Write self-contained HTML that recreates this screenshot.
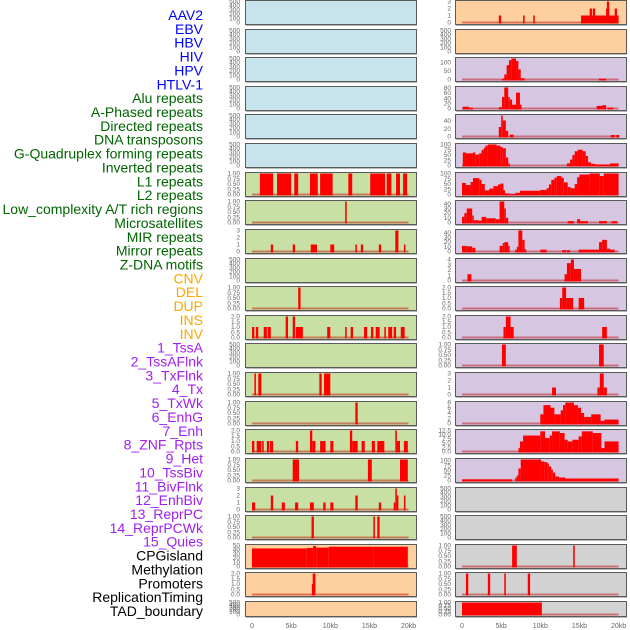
<!DOCTYPE html>
<html><head><meta charset="utf-8"><style>html,body{margin:0;padding:0;background:#fff}svg{display:block}</style></head>
<body>
<svg id="chart" width="630" height="630" xmlns="http://www.w3.org/2000/svg" font-family="Liberation Sans, sans-serif"></svg>
<script>
const labelTexts=["AAV2","EBV","HBV","HIV","HPV","HTLV-1","Alu repeats","A-Phased repeats","Directed repeats","DNA transposons","G-Quadruplex forming repeats","Inverted repeats","L1 repeats","L2 repeats","Low_complexity A/T rich regions","Microsatellites","MIR repeats","Mirror repeats","Z-DNA motifs","CNV","DEL","DUP","INS","INV","1_TssA","2_TssAFlnk","3_TxFlnk","4_Tx","5_TxWk","6_EnhG","7_Enh","8_ZNF_Rpts","9_Het","10_TssBiv","11_BivFlnk","12_EnhBiv","13_ReprPC","14_ReprPCWk","15_Quies","CPGisland","Methylation","Promoters","ReplicationTiming","TAD_boundary"];
const labelColors=["#0000ff","#0000ff","#0000ff","#0000ff","#0000ff","#0000ff","#006400","#006400","#006400","#006400","#006400","#006400","#006400","#006400","#006400","#006400","#006400","#006400","#006400","#ffa500","#ffa500","#ffa500","#ffa500","#ffa500","#a020f0","#a020f0","#a020f0","#a020f0","#a020f0","#a020f0","#a020f0","#a020f0","#a020f0","#a020f0","#a020f0","#a020f0","#a020f0","#a020f0","#a020f0","#000","#000","#000","#000","#000"];
labelTexts.splice(19,0); // keep
const xTickValues=[0,5,10,15,20];
const xTickLabels=["0","5kb","10kb","15kb","20kb"];
const E=["0","100","200","300","400","500"];
const F=["0.00","0.25","0.50","0.75","1.00"];
const H=["0.0","0.5","1.0","1.5","2.0"];
const T3=["0","1","2","3"];
// left column
const leftColors=["#c7e4ec","#c7e4ec","#c7e4ec","#c7e4ec","#c7e4ec","#c7e4ec","#c8e0a4","#c8e0a4","#c8e0a4","#c8e0a4","#c8e0a4","#c8e0a4","#c8e0a4","#c8e0a4","#c8e0a4","#c8e0a4","#c8e0a4","#c8e0a4","#c8e0a4","#fed09f","#fed09f","#fed09f"];
const leftTicks=[E,E,E,E,E,E,F,F,T3,E,F,H,E,F,F,H,F,T3,F,["0","10","20","30","40","50"],H,E];
const leftYMax=[500,500,500,500,500,500,1,1,3,500,1,2,500,1,1,2,1,3,1,50,2,500];
const leftSegments=[[],[],[],[],[],[],
[[1.0,2.7,1],[3.2,5.0,1],[5.4,5.9,1],[7.4,8.4,1],[8.7,10.3,1],[12.3,12.8,1],[15.1,17.0,1],[17.2,17.8,1],[18.4,18.9,1],[19.3,19.8,1]],
[[11.9,12.1,1]],
[[2.4,2.7,1],[5.2,5.5,1],[7.5,8.3,1],[10.0,10.5,1],[13.2,13.4,1],[13.9,14.2,1],[16.2,16.5,1],[18.3,18.7,3],[19.4,19.6,1]],
[],
[[5.9,6.2,1]],
[[0.0,0.3,1],[0.5,0.8,1],[1.5,1.9,1],[2.0,2.4,1],[4.3,4.6,2],[5.2,5.5,2],[5.6,6.5,1],[9.6,10.0,1],[11.9,12.1,1],[12.6,12.9,1],[14.3,14.7,1],[15.2,15.5,1],[15.8,16.3,1],[16.9,17.1,1],[17.4,17.9,1],[18.1,18.4,1],[19.0,19.5,1]],
[],
[[0.3,0.5,1],[0.8,1.2,1],[8.6,8.9,1],[9.2,10.0,1]],
[[13.2,13.5,1]],
[[0.0,0.3,1],[0.6,1.2,1],[1.3,1.5,1],[1.9,2.2,1],[2.3,2.7,1],[5.6,5.9,1],[7.4,7.7,2],[7.7,8.1,1],[8.7,9.4,1],[10.0,10.4,1],[12.5,12.8,2],[12.8,13.5,1],[14.0,14.4,1],[15.3,15.7,1],[16.0,16.9,1],[18.3,18.5,2],[18.5,18.9,1],[19.4,19.9,1]],
[[5.2,6.0,1],[14.8,15.3,1],[18.9,19.9,1]],
[[0.0,0.4,1],[2.4,2.7,2],[3.8,4.2,1],[5.5,5.9,1],[7.4,7.9,1],[9.1,9.4,1],[10.0,10.4,1],[13.2,13.5,2],[16.2,16.5,1],[18.1,18.3,1],[18.3,18.5,3],[18.5,18.7,2],[19.4,19.6,2]],
[[7.6,7.9,1],[15.5,15.7,1],[16.0,16.3,1]],
[[0,7,43],[7,7.8,44],[7.8,8.2,49],[8.2,9.8,45],[9.8,15.5,47],[15.5,19.9,47]],
[[7.65,7.75,1],[7.75,8.1,2]],
[]];
// right column
const P="#d6c6e2",G="#d2d2d2",O="#fed09f";
const rightColors=[O,O,P,P,P,P,P,P,P,P,P,P,P,P,P,P,P,G,G,G,G,G];
const rightTicks=[T3,E,["0","50","100"],["0","20","40","60","80"],["0","20","40"],["0","25","50","75","100"],["0","25","50","75","100"],["0","10","20","30","40"],["0","10","20","30","40"],["0","1","2","3","4"],H,H,F,T3,["0","2","4","6","8"],["0.0","2.5","5.0","7.5","10.0","12.5"],["0","25","50","75","100"],E,E,F,F,F];
const rightYMax=[3,500,125,82,55,100,100,45,45,4,2,2,1,3,8,12.5,105,500,500,1,1,1];
const rightSegments=[
[[4.7,5.0,1],[7.8,8.0,1],[9.1,9.3,1],[15.2,20,1],[16.3,16.6,2],[16.7,17.0,2],[18.4,18.8,2],[18.5,18.8,3],[19.5,19.8,2]],
[],
[[5.1,5.4,5],[5.4,5.7,30],[5.7,6.0,85],[6.0,6.3,115],[6.3,6.9,125],[6.9,7.2,110],[7.2,7.5,60],[7.5,8.0,8],[17.5,18.4,5]],
[[0.1,0.9,7],[0.9,1.4,3],[4.7,5.1,5],[5.1,5.4,45],[5.4,5.9,82],[5.9,6.1,45],[6.1,6.4,35],[6.4,6.9,15],[6.9,7.4,62],[7.4,7.6,15],[17.2,17.9,10],[17.9,18.4,13],[18.6,19.3,4]],
[[4.7,5.0,25],[5.0,5.2,55],[5.2,5.6,42],[5.6,5.9,15],[6.1,6.6,5],[19.0,19.5,4],[19.7,20.1,4]],
[[0.1,0.5,62],[0.5,1.4,58],[1.4,1.7,62],[1.7,2.2,52],[2.2,2.5,58],[2.5,2.8,75],[2.8,3.0,85],[3.0,3.3,95],[3.3,4.4,100],[4.4,4.9,95],[4.9,5.2,88],[5.2,5.6,82],[5.6,5.9,38],[5.9,6.1,10],[13.4,13.8,10],[13.8,14.1,28],[14.1,14.4,50],[14.4,14.8,68],[14.8,15.4,75],[15.4,15.8,68],[15.8,16.1,45],[16.1,16.5,15],[16.5,17.0,8],[17.0,18.9,5],[18.9,20,10]],
[[0,0.5,55],[0.5,1.1,45],[1.1,1.4,60],[1.4,2.2,78],[2.2,2.5,70],[2.5,2.9,50],[2.9,3.5,20],[3.5,4.0,28],[4.0,4.6,40],[4.6,4.9,48],[4.9,5.3,52],[5.3,5.5,20],[5.5,6.1,5],[6.1,6.8,2],[6.8,7.4,8],[7.4,10.0,18],[10.0,10.8,22],[10.8,11.1,30],[11.1,11.4,48],[11.4,11.8,70],[11.8,12.1,80],[12.1,12.7,88],[12.7,13.0,80],[13.0,13.5,58],[13.5,13.9,35],[13.9,14.4,30],[14.4,14.7,50],[14.7,15.0,82],[15.0,16.3,95],[16.3,17.6,100],[17.6,18.1,88],[18.1,20,100]],
[[0,0.3,12],[0.3,0.6,20],[0.6,1.3,30],[1.3,1.5,15],[1.5,2.1,5],[2.1,2.5,4],[2.5,3.1,12],[3.1,4.3,9],[4.3,4.8,7],[4.8,5.4,45],[5.4,5.6,30],[5.6,5.9,10],[13.5,14.3,3],[14.7,15.1,7],[15.1,16.1,3],[17.5,18.5,3],[19.1,19.8,3]],
[[0,0.6,12],[0.6,1.3,11],[1.3,1.7,8],[4.8,5.2,12],[5.2,5.4,18],[5.4,5.9,20],[5.9,6.0,12],[6.8,7.0,4],[7.0,7.2,10],[7.2,7.7,45],[7.7,8.0,25],[8.0,8.1,5],[10.0,10.8,4],[12.8,13.3,3],[13.4,13.8,3],[14.9,17.5,4],[17.5,17.9,20],[17.9,18.5,25],[18.5,18.9,6],[18.9,19.5,4]],
[[0.7,1.2,1.2],[13.1,13.4,1.2],[13.4,13.9,3.3],[13.9,14.3,4],[14.3,15.2,2.2]],
[[12.5,12.8,1],[12.8,13.3,2],[13.3,14.2,1],[14.9,15.6,1]],
[[5.3,5.6,1],[5.6,6.2,2],[6.2,6.6,1],[17.9,18.5,1]],
[[5.1,5.6,1],[17.5,18.1,1]],
[[11.5,12.0,1],[17.3,17.6,1],[17.6,18.1,3],[18.1,18.5,1]],
[[10.0,10.4,3.5],[10.4,11.3,7],[11.3,11.8,6],[11.8,12.6,3.5],[12.6,12.9,5],[12.9,13.2,7],[13.2,14.3,8],[14.3,14.8,7],[14.8,15.2,6],[15.2,15.6,4],[15.6,16.5,2.5],[16.5,17.7,3.5],[17.7,18.2,1],[18.2,20,1.5]],
[[7.2,7.4,2],[7.4,7.8,6],[7.8,10.0,9.5],[10.0,10.6,12],[10.6,11.2,8],[11.2,11.5,9.5],[11.5,12.5,12],[12.5,13.1,11],[13.1,13.5,7],[13.5,14.1,6],[14.1,14.9,7],[14.9,15.3,9],[15.3,16.7,12],[16.7,17.8,11],[17.8,18.2,2],[18.2,20,6]],
[[0,6.4,6],[6.8,7.0,15],[7.0,7.2,25],[7.2,7.5,60],[7.5,10.1,105],[10.1,10.5,95],[10.5,10.9,92],[10.9,11.1,85],[11.1,11.4,70],[11.4,11.6,55],[11.6,11.9,40],[11.9,12.4,20],[12.4,13.2,15],[13.2,20,10]],
[],[],
[[6.4,7.0,1],[14.2,14.4,1]],
[[0.5,0.8,1],[3.3,3.6,1],[5.4,5.6,1],[8.4,8.7,1]],
[[0,10.2,1]]];

const NS="http://www.w3.org/2000/svg";
const svg=document.getElementById("chart");
function mk(tag,attrs,parent){const e=document.createElementNS(NS,tag);for(const k in attrs)e.setAttribute(k,attrs[k]);(parent||svg).appendChild(e);return e;}
const rowTop=i=>i<21?Math.round(i*28.62):601;
const rowH=i=>i<21?25:16;
// labels
labelTexts.forEach((t,i)=>{
  const el=mk("text",{x:203,y:15+i*(596/(labelTexts.length-1)),"text-anchor":"end","dominant-baseline":"central","font-size":"14",fill:labelColors[i]});
  
  
  el.textContent=t;
});
function drawColumn(colors,ticks,ymax,segs,px0,tickX,name){
  const xs=kb=>px0+7+kb*7.83;
  for(let i=0;i<colors.length;i++){
    const T=rowTop(i),h=rowH(i),B=T+h;
    const g=mk("g",{});
    
    
    mk("rect",{x:px0+1,y:T+1,width:171,height:h,fill:"#b8b8b8"},g);
    mk("rect",{x:px0+0.5,y:T+0.5,width:171,height:h-1,fill:colors[i],stroke:"#5a5a5a","stroke-width":1},g);
    const y0=B-2.5,yt=T+1.5;
    const ys=v=>y0-v/ymax[i]*(y0-yt);
    const tk=ticks[i];
    const tmax=parseFloat(tk[tk.length-1]);
    tk.forEach(t=>{
      const v=parseFloat(t);
      const ty=y0-(v/tmax)*(ymax[i]===500?(y0-yt):(tmax/ymax[i])*(y0-yt));
      const tl=mk("text",{x:tickX,y:ty+2,"text-anchor":"end","font-size":"6.5",fill:"#666"},g);
      
      
      tl.textContent=t;
    });
    if(segs[i].length){
      const bl=mk("line",{x1:xs(0),x2:xs(20),y1:y0,y2:y0,stroke:"rgba(190,0,0,0.45)","stroke-width":2},g);
      
      
    }
    segs[i].forEach(s=>{
      const yy=Math.max(T+1,ys(s[2]));
      const r=mk("rect",{x:xs(s[0]),y:yy,width:Math.max(1.5,xs(s[1])-xs(s[0])),height:Math.max(0,y0+1-yy),fill:"#ff0000"},g);
      
      
    });
  }
  xTickValues.forEach((v,k)=>{
    const t=mk("text",{x:xs(v),y:628,"text-anchor":"middle","font-size":"7",fill:"#666"});
    
    
    t.textContent=xTickLabels[k];
  });
}
drawColumn(leftColors,leftTicks,leftYMax,leftSegments,245,240,"left");
drawColumn(rightColors,rightTicks,rightYMax,rightSegments,455,451,"right");
</script>
</body></html>
